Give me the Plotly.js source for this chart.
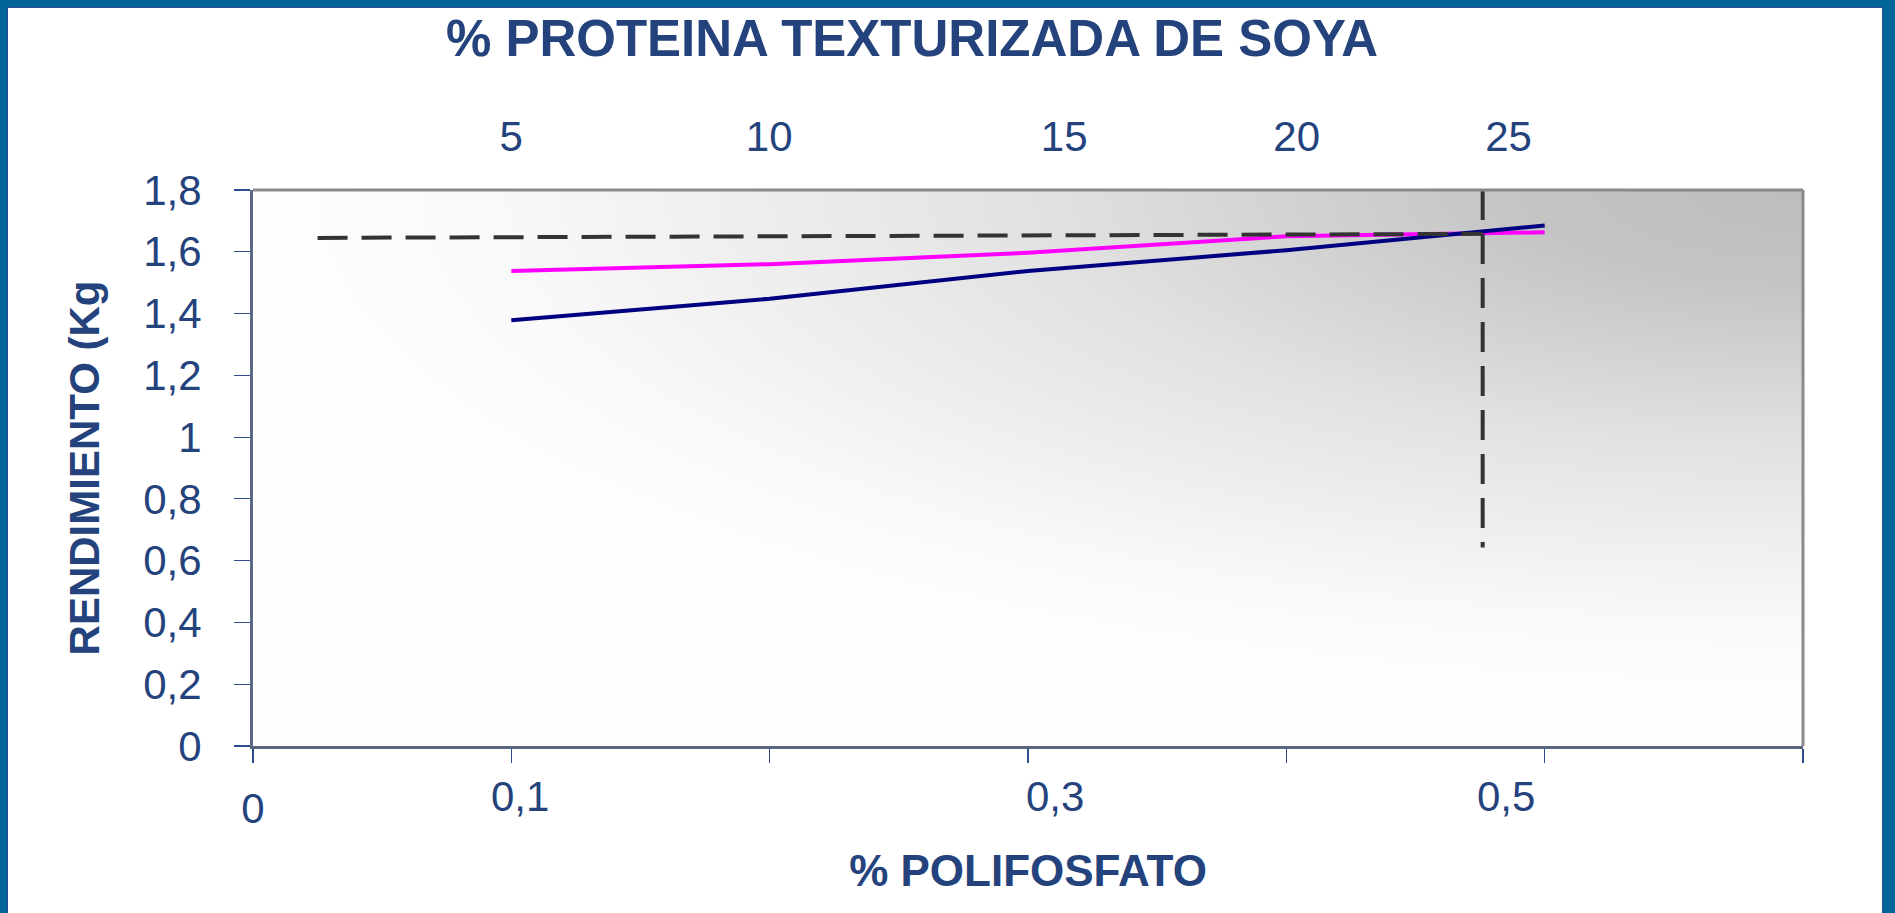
<!DOCTYPE html>
<html>
<head>
<meta charset="utf-8">
<script src="https://cdn.plot.ly/plotly-3.0.1.min.js"></script>
<style>
  html, body { margin: 0; padding: 0; }
  body { width: 1895px; height: 913px; background: #006699; position: relative; overflow: hidden; }
  #chart { position: absolute; left: 7px; top: 7px; width: 1874px; height: 906px;
           border-left: 1px solid #2b4a87; border-top: 1px solid #2b4a87; border-right: 1px solid #2b4a87; background: #ffffff; }
</style>
</head>
<body>
<div id="chart"></div>
<script>
// ---- data ----
const polifosfato = [0.1, 0.2, 0.3, 0.4, 0.5];
const rendimientoMagenta = [1.538, 1.56, 1.597, 1.65, 1.663];
const rendimientoAzul = [1.378, 1.448, 1.538, 1.605, 1.685];
const refHorizX = [0.025, 0.476];
const refHorizY = [1.645, 1.658];
const refVertX = [0.476, 0.476];
const refVertY = [1.8, 0.643];

const yTickVals = [0, 0.2, 0.4, 0.6, 0.8, 1, 1.2, 1.4, 1.6, 1.8];
const yTickLabels = ['0', '0,2', '0,4', '0,6', '0,8', '1', '1,2', '1,4', '1,6', '1,8'];
const xTickVals = [0, 0.1, 0.2, 0.3, 0.4, 0.5, 0.6];
const bottomLabelPos = [0.1034, 0.3105, 0.4851];
const bottomLabels = ['0,1', '0,3', '0,5'];
const zeroLabelPos = [0];
const zeroLabels = ['0'];
const topLabelPos = [0.0999, 0.1998, 0.314, 0.404, 0.486];
const topLabels = ['5', '10', '15', '20', '25'];

// ---- styling ----
const TXT = '#24437d';
const FONT = '"Liberation Sans", Arial, sans-serif';

// gradient background image for plot area
function gradientURL() {
  const W = 1550, H = 556;
  const c = document.createElement('canvas');
  c.width = W; c.height = H;
  const ctx = c.getContext('2d');
  ctx.fillStyle = '#fefefe';
  ctx.fillRect(0, 0, W, H);
  ctx.scale(W, H * 0.92);
  const g = ctx.createRadialGradient(1, 0, 0, 1, 0, 1);
  g.addColorStop(0, '#bdbdbd');
  g.addColorStop(0.18, '#c4c4c4');
  g.addColorStop(0.5, '#e2e2e2');
  g.addColorStop(0.85, '#f9f9f9');
  g.addColorStop(1, '#fefefe');
  ctx.fillStyle = g;
  ctx.fillRect(0, 0, 1, 1 / 0.92);
  return c.toDataURL('image/png');
}

const dashStyle = {color: '#333333', width: 4, dash: '30px,14px'};

const traces = [
  {x: polifosfato, y: rendimientoMagenta, type: 'scatter', mode: 'lines',
   line: {color: '#ff00ff', width: 4}, xaxis: 'x', yaxis: 'y', hoverinfo: 'x+y'},
  {x: polifosfato, y: rendimientoAzul, type: 'scatter', mode: 'lines',
   line: {color: '#000080', width: 4}, xaxis: 'x', yaxis: 'y', hoverinfo: 'x+y'},
  {x: refHorizX, y: refHorizY, type: 'scatter', mode: 'lines', line: dashStyle, hoverinfo: 'skip'},
  {x: refVertX, y: refVertY, type: 'scatter', mode: 'lines', line: dashStyle, hoverinfo: 'skip'},
  // invisible traces to activate label axes
  {x: [0], y: [0], xaxis: 'x2', yaxis: 'y', mode: 'markers', marker: {opacity: 0}, hoverinfo: 'skip'},
  {x: [0], y: [0], xaxis: 'x3', yaxis: 'y', mode: 'markers', marker: {opacity: 0}, hoverinfo: 'skip'},
  {x: [0], y: [0], xaxis: 'x4', yaxis: 'y', mode: 'markers', marker: {opacity: 0}, hoverinfo: 'skip'}
];

const labelAxis = (extra) => Object.assign({
  overlaying: 'x', range: [0, 0.6], showgrid: false, zeroline: false, showline: false,
  ticks: '', tickmode: 'array', tickfont: {family: FONT, size: 42, color: TXT}, fixedrange: true
}, extra);

const layout = {
  width: 1874, height: 905,
  margin: {l: 245, r: 79, t: 182, b: 167},
  paper_bgcolor: '#ffffff',
  plot_bgcolor: 'rgba(0,0,0,0)',
  showlegend: false,
  title: {
    text: '% PROTEINA TEXTURIZADA DE SOYA',
    font: {family: FONT, size: 51, color: TXT, weight: 'bold'},
    xref: 'container', x: 0.4824, xanchor: 'center',
    yref: 'container', y: 0.967, yanchor: 'middle'
  },
  xaxis: {
    range: [0, 0.6], tickmode: 'array', tickvals: xTickVals, showticklabels: false,
    ticks: 'outside', ticklen: 14, tickwidth: 1.2, tickcolor: '#2d4d8c',
    showline: true, linecolor: '#5a6580', linewidth: 3,
    showgrid: false, zeroline: false,
    title: {text: '% POLIFOSFATO', standoff: 94,
            font: {family: FONT, size: 44, color: TXT, weight: 'bold'}}
  },
  xaxis2: labelAxis({side: 'top', anchor: 'y', tickvals: topLabelPos, ticktext: topLabels, ticklabelstandoff: 30}),
  xaxis3: labelAxis({side: 'bottom', anchor: 'y', tickvals: bottomLabelPos, ticktext: bottomLabels, ticklabelstandoff: 22}),
  xaxis4: labelAxis({side: 'bottom', anchor: 'y', tickvals: zeroLabelPos, ticktext: zeroLabels, ticklabelstandoff: 34}),
  yaxis: {
    range: [0, 1.8], tickmode: 'array', tickvals: yTickVals, ticktext: yTickLabels,
    ticks: 'outside', ticklen: 16, tickwidth: 1.2, tickcolor: '#2d4d8c',
    ticklabelstandoff: 24,
    tickfont: {family: FONT, size: 42, color: TXT},
    showline: true, linecolor: '#5d6884', linewidth: 3,
    showgrid: false, zeroline: false,
    title: {text: 'RENDIMIENTO (Kg', standoff: 31,
            font: {family: FONT, size: 42, color: TXT, weight: 'bold'}}
  },
  images: [{
    source: gradientURL(), xref: 'paper', yref: 'paper', x: 0, y: 1, sizex: 1, sizey: 1,
    xanchor: 'left', yanchor: 'top', sizing: 'stretch', layer: 'below'
  }],
  shapes: [
    {type: 'line', xref: 'paper', yref: 'paper', x0: 0, x1: 1, y0: 1, y1: 1, line: {color: '#8a8a8a', width: 3}},
    {type: 'line', xref: 'paper', yref: 'paper', x0: 1, x1: 1, y0: 0, y1: 1, line: {color: '#8a8a8a', width: 3}}
  ]
};

Plotly.newPlot('chart', traces, layout, {staticPlot: true, displayModeBar: false});
</script>
</body>
</html>
